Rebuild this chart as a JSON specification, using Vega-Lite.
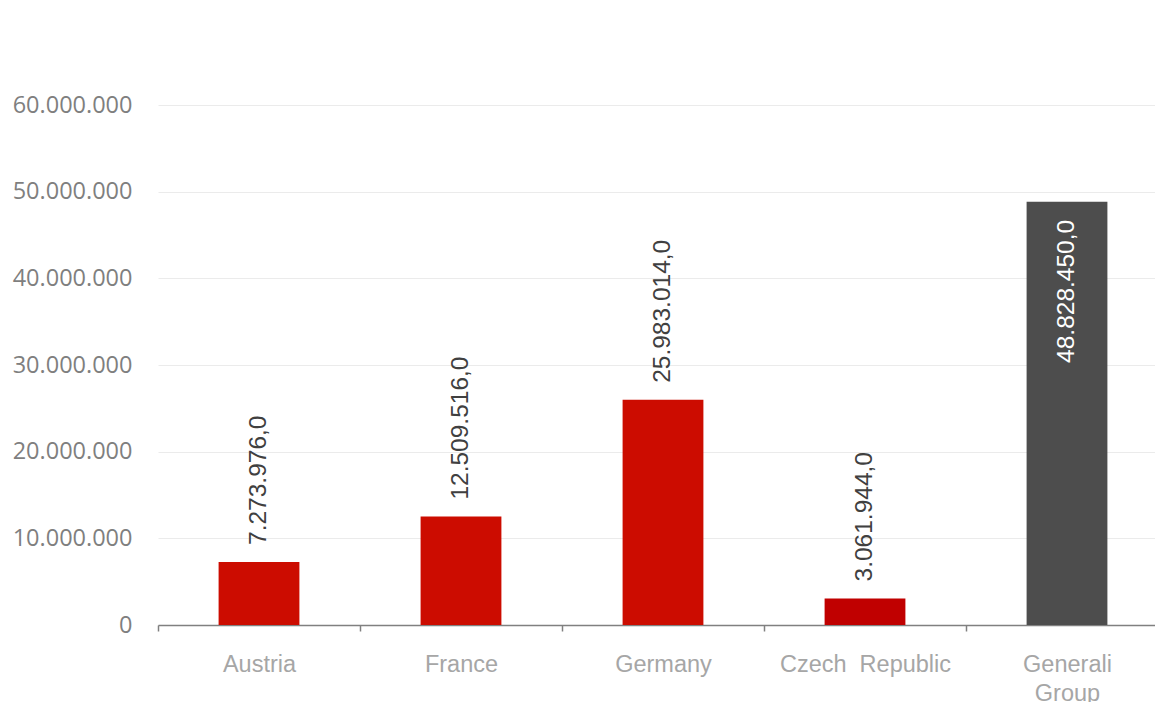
{
  "$schema": "https://vega.github.io/schema/vega-lite/v6.json",
  "autosize": {"type": "none"},
  "width": 997,
  "height": 520,
  "padding": {"left": 158, "top": 105, "right": 0, "bottom": 77},
  "background": "white",
  "config": {
    "view": {"stroke": null},
    "locale": {"number": {"decimal": ",", "thousands": ".", "grouping": [3], "currency": ["", " €"]}}
  },
  "data": {
    "values": [
      {"country": "Austria", "value": 7273976, "kind": "Austria"},
      {"country": "France", "value": 12509516, "kind": "France"},
      {"country": "Germany", "value": 25983014, "kind": "Germany"},
      {"country": "Czech\u00a0 Republic", "value": 3061944, "kind": "Czech"},
      {"country": "Generali Group", "value": 48828450, "kind": "Group"}
    ]
  },
  "encoding": {
    "x": {
      "field": "country",
      "type": "nominal",
      "sort": null,
      "scale": {"type": "band", "range": [0, 1010], "paddingInner": 0, "paddingOuter": 0},
      "axis": {
        "title": null,
        "labelAngle": 0,
        "tickBand": "extent",
        "domainColor": "#808080",
        "domainWidth": 1.5,
        "tickColor": "#808080",
        "tickWidth": 1.5,
        "tickSize": 6,
        "labelFont": "Liberation Sans",
        "labelFontSize": 23.5,
        "labelColor": "#A6A6A6",
        "labelPadding": 21,
        "labelBaseline": "top",
        "labelLineHeight": 29,
        "labelExpr": "datum.value == 'Generali Group' ? ['Generali', 'Group'] : datum.value",
        "grid": false
      }
    },
    "y": {
      "field": "value",
      "type": "quantitative",
      "scale": {"domain": [0, 60000000], "nice": false},
      "axis": {
        "title": null,
        "values": [0, 10000000, 20000000, 30000000, 40000000, 50000000, 60000000],
        "format": ",d",
        "domain": false,
        "ticks": false,
        "labelPadding": 26,
        "labelFont": "Open Sans",
        "labelFontSize": 23.5,
        "labelColor": "#7F7F7F",
        "grid": true,
        "gridColor": "#EBEBEB",
        "gridWidth": 1
      }
    }
  },
  "layer": [
    {
      "mark": {"type": "bar", "width": {"band": 0.4}},
      "encoding": {
        "color": {
          "field": "kind",
          "type": "nominal",
          "scale": {"domain": ["Austria", "France", "Germany", "Czech", "Group"], "range": ["#CC0C00", "#CC0C00", "#CC0C00", "#C00000", "#4D4D4D"]},
          "legend": null
        }
      }
    },
    {
      "transform": [{"filter": "datum.kind != 'Group'"}],
      "mark": {"type": "text", "angle": 270, "align": "left", "baseline": "middle", "dx": 17, "font": "Liberation Sans", "fontSize": 24.5, "color": "#404040"},
      "encoding": {"text": {"field": "value", "type": "quantitative", "format": ",.1f"}}
    },
    {
      "transform": [{"filter": "datum.kind == 'Group'"}],
      "mark": {"type": "text", "angle": 270, "align": "right", "baseline": "middle", "dx": -18, "font": "Liberation Sans", "fontSize": 24.5, "color": "#FFFFFF"},
      "encoding": {"text": {"field": "value", "type": "quantitative", "format": ",.1f"}}
    }
  ]
}
